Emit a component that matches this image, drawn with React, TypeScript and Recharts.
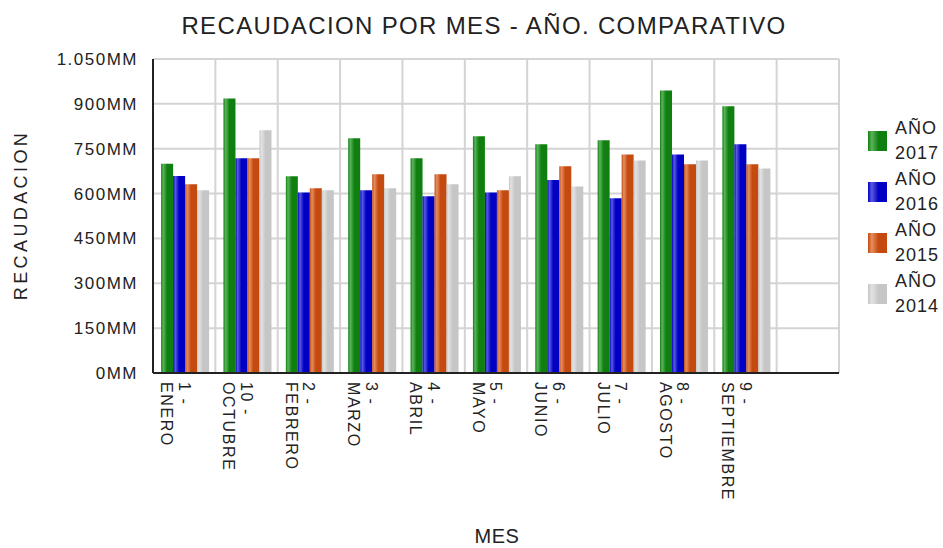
import React from "react";
import { BarChart, Bar, XAxis, YAxis, CartesianGrid } from "recharts";

const months = [
  "1 - ENERO",
  "10 - OCTUBRE",
  "2 - FEBRERO",
  "3 - MARZO",
  "4 - ABRIL",
  "5 - MAYO",
  "6 - JUNIO",
  "7 - JULIO",
  "8 - AGOSTO",
  "9 - SEPTIEMBRE",
  "",
];

// values in millions (MM)
const y2017 = [700, 918, 658, 785, 718, 792, 765, 778, 945, 892, null];
const y2016 = [659, 718, 604, 611, 591, 604, 645, 584, 731, 765, null];
const y2015 = [631, 718, 618, 665, 665, 611, 691, 731, 698, 698, null];
const y2014 = [611, 812, 611, 618, 631, 658, 624, 711, 711, 684, null];

const yTicks = [0, 150, 300, 450, 600, 750, 900, 1050];

const SERIES = [
  { key: "y2017", name: "AÑO 2017", light: "#5cb35c", dark: "#0f800f" },
  { key: "y2016", name: "AÑO 2016", light: "#5a5ae0", dark: "#0000c4" },
  { key: "y2015", name: "AÑO 2015", light: "#e58e5e", dark: "#c44a10" },
  { key: "y2014", name: "AÑO 2014", light: "#e2e2e2", dark: "#c6c6c6" },
];

const chartData = months.map((m, i) => ({
  mes: m,
  y2017: y2017[i],
  y2016: y2016[i],
  y2015: y2015[i],
  y2014: y2014[i],
}));

const TEXT = "#222";

function formatMM(v: number) {
  const s = String(v);
  const grouped = s.length > 3 ? s.slice(0, -3) + "." + s.slice(-3) : s;
  return grouped + "MM";
}

// two-line label rotated 90deg, number on top line, month name below
const MonthTick = ({ x, y, payload }: any) => {
  if (!payload || !payload.value) return null;
  const [num, name] = String(payload.value).split(" - ");
  return (
    <g transform={`translate(${x},${y})`}>
      <text transform="rotate(90)" fontSize={16} letterSpacing={1.6} fill={TEXT} textAnchor="start">
        <tspan x={9} dy="0.35em">{num + " -"}</tspan>
        <tspan x={9} dy="1.1em">{name}</tspan>
      </text>
    </g>
  );
};

const LegendBox = () => (
  <div style={{ position: "absolute", left: 868, top: 115 }}>
    {SERIES.map((s) => {
      const [a, b] = s.name.split(" ");
      return (
        <div key={s.key} style={{ display: "flex", alignItems: "center", height: 51 }}>
          <div
            style={{
              width: 19,
              height: 20,
              marginRight: 8,
              background: `linear-gradient(to right, ${s.dark} 0%, ${s.light} 20%, ${s.dark} 55%, ${s.dark} 100%)`,
            }}
          />
          <div style={{ fontSize: 18, lineHeight: "25px", letterSpacing: 1, color: TEXT }}>
            <div>{a}</div>
            <div>{b}</div>
          </div>
        </div>
      );
    })}
  </div>
);

export default function App() {
  return (
    <div style={{ position: "relative", width: 943, height: 548, fontFamily: "'Liberation Sans', Arial, sans-serif", background: "#fff" }}>
      <style>{`body{margin:0}`}</style>
      <div
        style={{
          position: "absolute",
          left: 484,
          top: 14,
          transform: "translateX(-50%)",
          fontSize: 24,
          lineHeight: "24px",
          letterSpacing: 1.35,
          whiteSpace: "nowrap",
          color: TEXT,
        }}
      >
        RECAUDACION POR MES - AÑO. COMPARATIVO
      </div>
      <div
        style={{
          position: "absolute",
          left: 21,
          top: 215,
          transform: "translate(-50%,-50%) rotate(-90deg)",
          fontSize: 18,
          lineHeight: "18px",
          letterSpacing: 3.4,
          whiteSpace: "nowrap",
          color: TEXT,
        }}
      >
        RECAUDACION
      </div>
      <div
        style={{
          position: "absolute",
          left: 497,
          top: 526,
          transform: "translateX(-50%)",
          fontSize: 20,
          lineHeight: "20px",
          letterSpacing: 0.5,
          color: TEXT,
        }}
      >
        MES
      </div>
      <BarChart
        width={943}
        height={548}
        data={chartData}
        margin={{ top: 59, right: 104, left: 0, bottom: 0 }}
        barCategoryGap="13%"
        barGap={0}
        style={{ position: "absolute", left: 0, top: 0 }}
      >
        <defs>
          {SERIES.map((s) => (
            <linearGradient key={s.key} id={`grad-${s.key}`} x1="0" y1="0" x2="1" y2="0">
              <stop offset="0%" stopColor={s.dark} />
              <stop offset="18%" stopColor={s.light} />
              <stop offset="50%" stopColor={s.dark} />
              <stop offset="100%" stopColor={s.dark} />
            </linearGradient>
          ))}
        </defs>
        <CartesianGrid
          stroke="#d4d4d4"
          strokeWidth={2}
          verticalCoordinatesGenerator={({ offset }: any) =>
            months.map((_, i) => offset.left + ((i + 1) * offset.width) / months.length).concat([offset.left])
          }
        />
        <XAxis
          dataKey="mes"
          height={175}
          interval={0}
          tickSize={0}
          tickMargin={0}
          tick={<MonthTick />}
          axisLine={{ stroke: TEXT, strokeWidth: 2 }}
        />
        <YAxis
          width={153}
          domain={[0, 1050]}
          ticks={yTicks}
          interval={0}
          tickFormatter={formatMM}
          tickSize={0}
          tickMargin={15}
          tick={{ fontSize: 17, fill: TEXT, letterSpacing: 1.5 }}
          axisLine={{ stroke: TEXT, strokeWidth: 2 }}
        />
        {SERIES.map((s) => (
          <Bar key={s.key} dataKey={s.key} name={s.name} fill={`url(#grad-${s.key})`} isAnimationActive={false} />
        ))}
      </BarChart>
      <LegendBox />
    </div>
  );
}
